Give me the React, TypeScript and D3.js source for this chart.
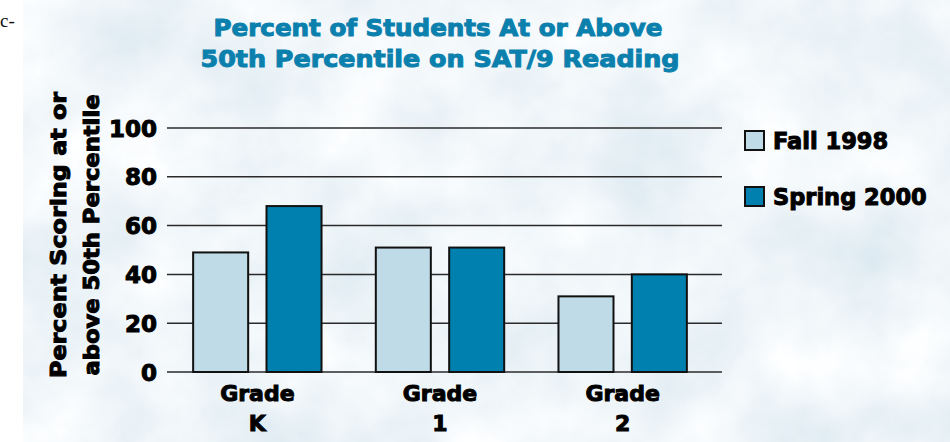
import { useEffect, useRef } from 'react';
import * as d3 from 'd3';

const W = 950;
const H = 442;

const grades = ['K', '1', '2'];
const seriesNames = ['Fall 1998', 'Spring 2000'];
const fall1998 = [49, 51, 31];
const spring2000 = [68, 51, 40];
const yTicks = [0, 20, 40, 60, 80, 100];
const titleLines = ['Percent of Students At or Above', '50th Percentile on SAT/9 Reading'];
const yTitleLines = ['Percent Scoring at or', 'above 50th Percentile'];

const colors = ['#bfdbe8', '#0080ae'];
const FONT = "'DejaVu Sans', Verdana, sans-serif";

const x = d3.scaleBand<string>().domain(grades).range([166, 714]).padding(0);
const xInner = d3.scaleBand<string>().domain(seriesNames).range([0, x.bandwidth()]).paddingInner(0.25).paddingOuter(0.37);
const y = d3.scaleLinear([0, 100], [372, 128]);

export default function App() {
  const svgRef = useRef<SVGSVGElement>(null);

  useEffect(() => {
    const svg = d3.select(svgRef.current);
    svg.selectAll('*').remove();

    // marble-ish background
    const defs = svg.append('defs');
    const filt = defs.append('filter').attr('id', 'marble').attr('x', 0).attr('y', 0).attr('width', '100%').attr('height', '100%');
    filt.append('feTurbulence').attr('type', 'fractalNoise').attr('baseFrequency', 0.01).attr('numOctaves', 5).attr('seed', 11);
    filt.append('feColorMatrix').attr('type', 'matrix')
      .attr('values', '0.36 0 0 0 0.69  0.24 0 0 0 0.8  0.17 0 0 0 0.865  0 0 0 0 1');

    svg.append('rect').attr('x', 0).attr('y', 0).attr('width', W).attr('height', H).attr('fill', '#fff');
    svg.append('rect').attr('x', 23).attr('y', 0).attr('width', W - 23).attr('height', H)
      .attr('fill', '#e3edf4').attr('filter', 'url(#marble)');

    // stray text fragment at top-left
    svg.append('text').attr('x', 0).attr('y', 27).attr('font-family', "'Liberation Serif', serif")
      .attr('font-size', 19).attr('fill', '#111').text('c-');

    const bold = (sel: any, size: number, fill: string) =>
      sel.attr('font-family', FONT).attr('font-weight', 700).attr('font-size', size)
        .attr('fill', fill).attr('stroke', fill).attr('stroke-width', 1);

    // title
    const titleW = [449, 479];
    bold(svg.append('g').selectAll('text').data(titleLines).join('text')
      .attr('x', (_, i) => (i === 0 ? 438 : 440)).attr('y', (_, i) => 36 + i * 30.5)
      .attr('text-anchor', 'middle')
      .attr('textLength', (_, i) => titleW[i]).attr('lengthAdjust', 'spacingAndGlyphs'), 22.5, '#0b80ad')
      .text((d: string) => d);

    // gridlines
    svg.append('g').selectAll('line').data(yTicks).join('line')
      .attr('x1', 167).attr('x2', 722).attr('y1', d => y(d)).attr('y2', d => y(d))
      .attr('stroke', '#2a2a2a').attr('stroke-width', 1.5);

    // y tick labels
    bold(svg.append('g').selectAll('text').data(yTicks).join('text')
      .attr('x', 157).attr('y', d => y(d) + 8.5)
      .attr('text-anchor', 'end'), 23, '#000').text((d: number) => d);

    // y title
    const yTitleW = [286, 281];
    bold(svg.append('g').selectAll('text').data(yTitleLines).join('text')
      .attr('transform', (_, i) => `translate(${66 + i * 33},235) rotate(-90)`)
      .attr('text-anchor', 'middle')
      .attr('textLength', (_, i) => yTitleW[i]).attr('lengthAdjust', 'spacingAndGlyphs'), 21, '#000')
      .text((d: string) => d);

    // bars
    const series = [fall1998, spring2000];
    const g = svg.append('g');
    series.forEach((vals, si) => {
      g.selectAll(`rect.s${si}`).data(vals).join('rect')
        .attr('class', `s${si}`)
        .attr('x', (_, i) => (x(grades[i]) ?? 0) + (xInner(seriesNames[si]) ?? 0))
        .attr('y', d => y(d))
        .attr('width', xInner.bandwidth())
        .attr('height', d => y(0) - y(d))
        .attr('fill', colors[si]).attr('stroke', '#111').attr('stroke-width', 2);
    });

    // x labels
    const xl = svg.append('g').selectAll('g').data(grades).join('g')
      .attr('transform', d => `translate(${(x(d) ?? 0) + x.bandwidth() / 2},0)`);
    bold(xl.append('text').attr('y', 401).attr('text-anchor', 'middle'), 22, '#000').text('Grade');
    bold(xl.append('text').attr('y', 431).attr('text-anchor', 'middle'), 22, '#000').text((d: string) => d);

    // legend
    const lg = svg.append('g').selectAll('g').data(seriesNames).join('g')
      .attr('transform', (_, i) => `translate(745,${131 + i * 56})`);
    lg.append('rect').attr('width', 19).attr('height', 19)
      .attr('fill', (_, i) => colors[i]).attr('stroke', '#111').attr('stroke-width', 2);
    bold(lg.append('text').attr('x', 28).attr('y', 17.5), 22.5, '#000').text((d: string) => d);
  }, []);

  return (
    <div style={{ position: 'absolute', left: 0, top: 0 }}>
      <svg ref={svgRef} width={W} height={H} style={{ display: 'block' }} />
    </div>
  );
}
